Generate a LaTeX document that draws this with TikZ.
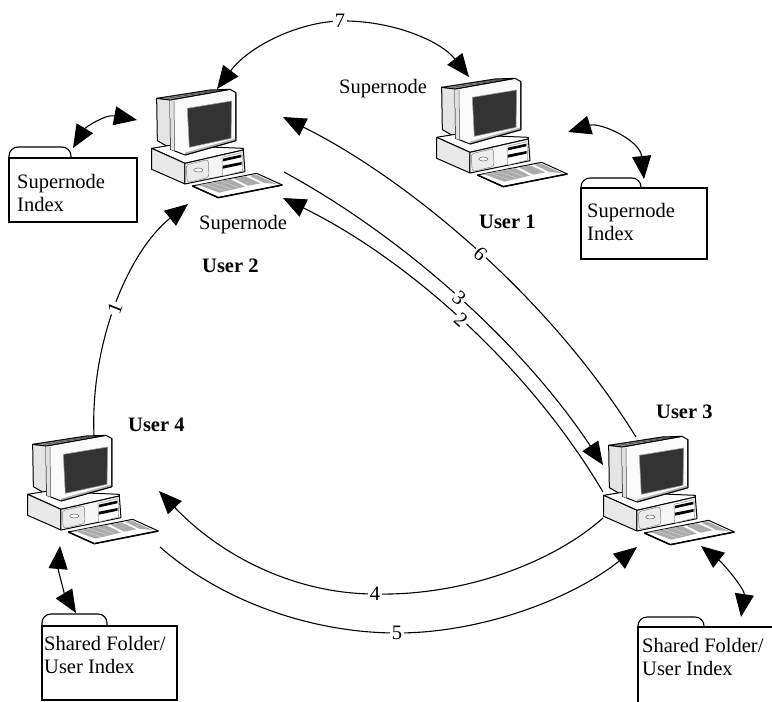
\documentclass[tikz,border=0pt]{standalone}
\usepackage{fontspec}
\setmainfont{Liberation Serif}
\usetikzlibrary{arrows.meta}
\tikzset{
  every node/.style={font=\fontsize{20.5}{23.5}\selectfont,inner sep=0pt},
  bigtip/.tip={Triangle[length=23pt,width=19pt]},
  tipend/.style={line width=1.1pt,black,-bigtip},
  tipstart/.style={line width=1.1pt,black,bigtip-},
  tipboth/.style={line width=1.1pt,black,bigtip-bigtip},
  lab/.style={fill=white,inner sep=1.5pt},
  label text/.style={anchor=base west},
  user/.style={anchor=base west,font=\fontsize{20.5}{23.5}\selectfont\bfseries},
  foldertext/.style={anchor=north west,align=left},
  folderline/.style={line width=1.1pt,black},
  pcline/.style={draw=black,line width=1pt,line join=round},
}
\newcommand{\computer}[3]{%
\begin{scope}[shift={(#1,#2)},x=.3333pt,y=-.3333pt]
  \coordinate (#3) at (200,220);
  % rear housing
  \fill[pcline,fill=black!10] (80,85) -- (122,88) -- (122,235) -- (82,212) -- cycle;
  % base
  \fill[pcline,fill=white] (65,235) -- (120,226) -- (340,235) -- (340,240) -- (165,280) -- cycle;
  \fill[pcline,fill=black!9] (65,235) -- (165,280) -- (165,342) -- (65,298) -- cycle;
  \fill[pcline,fill=black!4] (165,280) -- (340,240) -- (345,305) -- (165,342) -- cycle;
  \fill[draw=black!50,line width=.5pt,fill=black!8,rounded corners=3pt] (168,285) -- (235,268) -- (237,322) -- (172,338) -- cycle;
  \draw[black!60,line width=.5pt,fill=black!3] (205,300) ellipse (14 and 6);
  \fill[draw=black!50,line width=.4pt,fill=white] (276,262) -- (336,248) -- (338,303) -- (278,318) -- cycle;
  \fill[black] (279,266) -- (334,254) -- (334,262) -- (279,274) -- cycle;
  \fill[black] (279,287) -- (335,276) -- (335,284) -- (279,296) -- cycle;
  % monitor
  \fill[pcline,fill=black!2] (120,90) -- (300,58) -- (318,68) -- (318,212) -- (165,255) -- (122,238) -- cycle;
  \fill[black!12] (120,90) -- (132,93) -- (134,243) -- (122,238) -- cycle;
  \draw[black!70,line width=.5pt] (132,93) -- (134,243);
  \fill[black!30] (165,255) -- (318,212) -- (318,205) -- (165,248) -- cycle;
  \draw[pcline] (165,255) -- (318,212) -- (318,68);
  % vents
  \fill[pcline,fill=black!40] (80,85) -- (240,60) -- (300,58) -- (120,90) -- cycle;
  \draw[black!85,line width=.4pt] (100,82) -- (255,60) (112,85) -- (275,60);
  % screen
  \fill[draw=black!40,line width=.6pt,fill=black!80] (172,115) -- (305,93) -- (303,205) -- (178,232) -- cycle;
  % keyboard
  \fill[pcline,fill=white] (187,348) -- (380,310) -- (457,345) -- (265,383) -- cycle;
  \fill[black!33] (205,345) -- (300,327) -- (345,350) -- (268,368) -- cycle;
  \fill[black!33] (312,326) -- (345,319) -- (392,340) -- (355,347) -- cycle;
  \fill[black!33] (358,317) -- (378,314) -- (440,342) -- (402,339) -- cycle;
  \draw[black!12,line width=.3pt] (222,342) -- (284,368-6) (245,337) -- (305,357) (270,332) -- (325,352);
  \draw[black,line width=1.5pt] (187,348) -- (265,383) -- (457,345);
\end{scope}}
\newcommand{\folder}[8]{% name, x1, tabright, x2, tabtop, bodytop, bottom, closed?
  \coordinate (#1nw) at (#2,#6);
  \coordinate (#1se) at (#4,#7);
  \draw[folderline,rounded corners=9pt] (#2,#6) -- (#2,#5) -- (#3,#5) -- (#3,#6);
  \ifnum#8=1 \draw[folderline] (#1nw) rectangle (#1se);
  \else \draw[folderline] (#2,#7) -- (#1nw) -- (#4,#6); \fi
}
\begin{document}
\begin{tikzpicture}[x=1pt,y=-1pt]
\useasboundingbox (0,0) rectangle (772,702);
\fill[white] (0,0) rectangle (772,702);

\computer{130}{70}{pcB}
\computer{415}{59}{pcA}
\computer{582}{417}{pcC}
\computer{6}{416}{pcD}

\folder{fa}{9}{71}{137}{147}{158}{222}{1}
\folder{fb}{581}{641}{707}{178}{188}{259}{1}
\folder{fd}{42}{107}{177}{614}{626}{700}{1}
\folder{fc}{638}{704}{772}{617}{627}{702}{0}

\node[foldertext] (ta) at (17,174) {Supernode\\Index};
\node[foldertext] (tb) at (587,203) {Supernode\\Index};
\node[foldertext] (td) at (44,636) {Shared Folder/\\User Index};
\node[foldertext] (tc) at (642,638) {Shared Folder/\\User Index};

\node[label text] (s2) at (199,229) {Supernode};
\node[label text] (s1) at (339,93) {Supernode};
\node[user] (u1) at (479,228) {User 1};
\node[user] (u2) at (202,272) {User 2};
\node[user] (u3) at (656,418) {User 3};
\node[user] (u4) at (128,431) {User 4};

% end points of the connectors
\coordinate (a7) at (217,89);  \coordinate (m7) at (340,21);  \coordinate (b7) at (469,77);
\coordinate (a1) at (94,436);  \coordinate (b1) at (188,204);
\coordinate (a6) at (283,117); \coordinate (b6) at (636,437);
\coordinate (a3) at (284,172); \coordinate (b3) at (603,465);
\coordinate (a2) at (283,198); \coordinate (b2) at (603,492);
\coordinate (a4) at (159,491); \coordinate (m4) at (375,594); \coordinate (b4) at (603,518);
\coordinate (a5) at (160,547); \coordinate (m5) at (397,633); \coordinate (b5) at (637,547);
\coordinate (ia) at (73,148);  \coordinate (ja) at (137,120);
\coordinate (ib) at (568,132); \coordinate (jb) at (644,179);
\coordinate (id) at (60,546);  \coordinate (jd) at (76,613);
\coordinate (ic) at (701,546); \coordinate (jc) at (741,617);

\draw[tipboth] (a7) .. controls (250,45) and (300,22) .. (m7) .. controls (390,20) and (440,40) .. (b7);
\node[lab] (n7) at (m7) {7};

\draw[tipend] (a1) .. controls (90,340) and (130,250) .. (b1) node[lab,sloped,pos=.47] (n1) {1};
\draw[tipstart] (a6) .. controls (400,175) and (545,290) .. (b6) node[lab,sloped,pos=.53] (n6) {6};
\draw[tipend] (a3) .. controls (400,235) and (520,340) .. (b3) node[lab,sloped,pos=.51] (n3) {3};
\draw[tipstart] (a2) .. controls (400,255) and (525,360) .. (b2) node[lab,sloped,pos=.51] (n2) {2};

\draw[tipstart] (a4) .. controls (225,560) and (300,594) .. (m4) .. controls (460,596) and (550,565) .. (b4);
\node[lab] (n4) at (m4) {4};
\draw[tipend] (a5) .. controls (220,600) and (310,633) .. (m5) .. controls (480,633) and (570,600) .. (b5);
\node[lab] (n5) at (m5) {5};

\draw[tipboth] (ia) .. controls (85,128) and (105,114) .. (ja);
\draw[tipboth] (ib) .. controls (600,122) and (640,140) .. (jb);
\draw[tipboth] (id) .. controls (58,570) and (65,595) .. (jd);
\draw[tipboth] (ic) .. controls (725,565) and (745,590) .. (jc);
\end{tikzpicture}
\end{document}
